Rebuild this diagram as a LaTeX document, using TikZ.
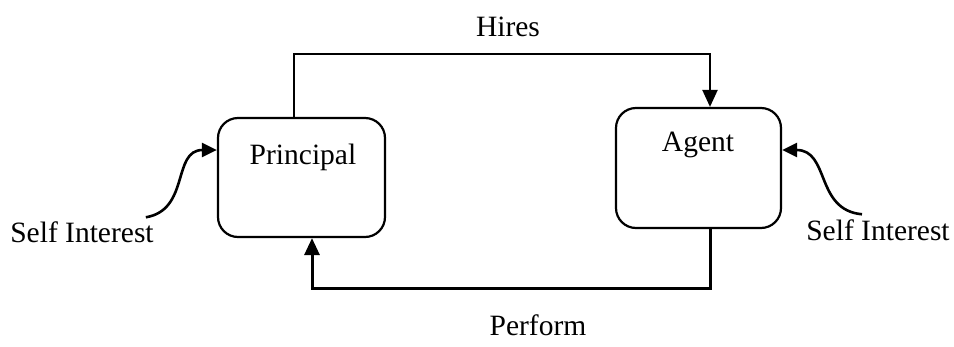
\documentclass[tikz,border=0pt]{standalone}
\usepackage{fontspec}
\setmainfont{Liberation Serif}
\usetikzlibrary{arrows.meta}
\begin{document}
\begin{tikzpicture}[x=1pt,y=-1pt,
  every node/.style={font=\fontsize{29.5}{34}\selectfont, inner sep=0pt},
  party/.style={draw, line width=2.2pt, rounded corners=20pt},
  conn/.style={line width=2.6pt, -{Triangle[length=17pt,width=15pt]}},
  curvy/.style={line width=2.6pt, -{Triangle[length=15pt,width=14pt]}}]
  \useasboundingbox (0,0) rectangle (954,346);

  % the two parties
  \node[party, minimum width=167pt, minimum height=119pt] (prin) at (301.5,177.5) {};
  \node[party, minimum width=165pt, minimum height=120pt] (agent) at (698.5,168) {};
  \node (prinTxt) at (303,157) {Principal};
  \node (agentTxt) at (698,145) {Agent};

  % relation labels
  \node (hires) at (508,27) {Hires};
  \node (perform) at (538,325) {Perform};
  \node (siL) at (82,232) {Self Interest};
  \node (siR) at (878,230) {Self Interest};

  % principal hires agent
  \draw[conn, line width=2.2pt] ([xshift=-7.5pt]prin.north) -- ++(0,-63) -| ([xshift=11.5pt]agent.north);
  % agent performs for principal
  \draw[conn, line width=3pt] ([xshift=11.5pt]agent.south) -- ++(0,59) -| ([xshift=10.5pt]prin.south);

  % self interest drives each party
  \draw[curvy] ([xshift=-8pt,yshift=4pt]siL.north east)
      .. controls (190,210) and (172,150) .. ([yshift=27.5pt]prin.west);
  \draw[curvy] ([xshift=-16pt,yshift=5pt]siR.north)
      .. controls (815,210) and (830,150) .. ([yshift=18pt]agent.east);
\end{tikzpicture}
\end{document}
